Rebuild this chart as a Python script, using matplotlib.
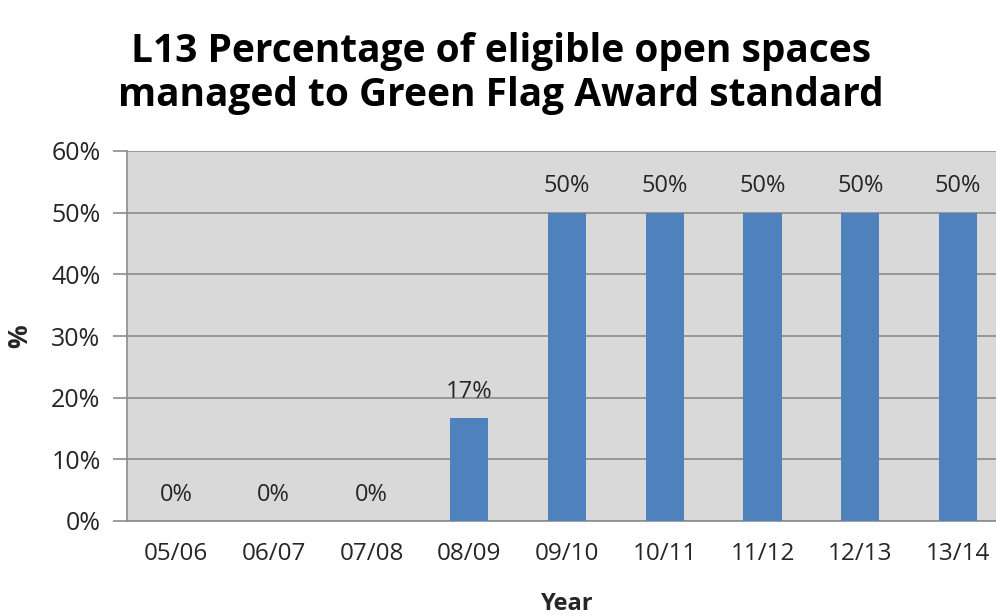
import numpy as np
import matplotlib.pyplot as plt

years = ['05/06', '06/07', '07/08', '08/09', '09/10', '10/11', '11/12', '12/13', '13/14']
pct = [0, 0, 0, 16.7, 50, 50, 50, 50, 50]
bar_labels = ['0%', '0%', '0%', '17%', '50%', '50%', '50%', '50%', '50%']

plt.rcParams['font.family'] = ['Open Sans', 'DejaVu Sans']
text_col = '#262626'
grid_col = '#8c8c8c'

fig = plt.figure(figsize=(9.96, 6.16), dpi=100)
ax = fig.add_axes([127 / 996, 95 / 616, 880 / 996, 370 / 616])
ax.set_facecolor('#d9d9d9')

x = np.arange(len(years))
ax.bar(x, pct, width=0.39, color='#4f81bd', zorder=3)
for xi, v, lab in zip(x, pct, bar_labels):
    ax.text(xi, v + 2.3, lab, ha='center', va='bottom', fontsize=17, color=text_col)

ax.set_xlim(-0.5, len(years) - 0.5)
ax.set_ylim(0, 60)
ax.set_yticks(np.arange(0, 61, 10))
ax.set_yticklabels([f'{t}%' for t in range(0, 61, 10)])
ax.set_xticks(x)
ax.set_xticklabels(years)
ax.yaxis.grid(True, color=grid_col, linewidth=1.2, zorder=0)
ax.set_axisbelow(True)

for s in ['top', 'right']:
    ax.spines[s].set_visible(False)
for s in ['left', 'bottom']:
    ax.spines[s].set_color(grid_col)
    ax.spines[s].set_linewidth(1.2)

ax.tick_params(axis='y', length=10, width=1.2, color=grid_col, labelsize=18,
               labelcolor=text_col, pad=9)
ax.tick_params(axis='x', length=0, labelsize=17.5, labelcolor=text_col, pad=15)

ax.set_ylabel('%', fontsize=19, fontweight='bold', color=text_col, labelpad=13)
ax.set_xlabel('Year', fontsize=17, fontweight='bold', color=text_col, labelpad=19)

fig.text(0.503, 0.880, 'L13 Percentage of eligible open spaces\nmanaged to Green Flag Award standard',
         ha='center', va='center', fontsize=28, fontweight='bold', color='black',
         linespacing=1.17)

fig.savefig('out.png', dpi=100)
